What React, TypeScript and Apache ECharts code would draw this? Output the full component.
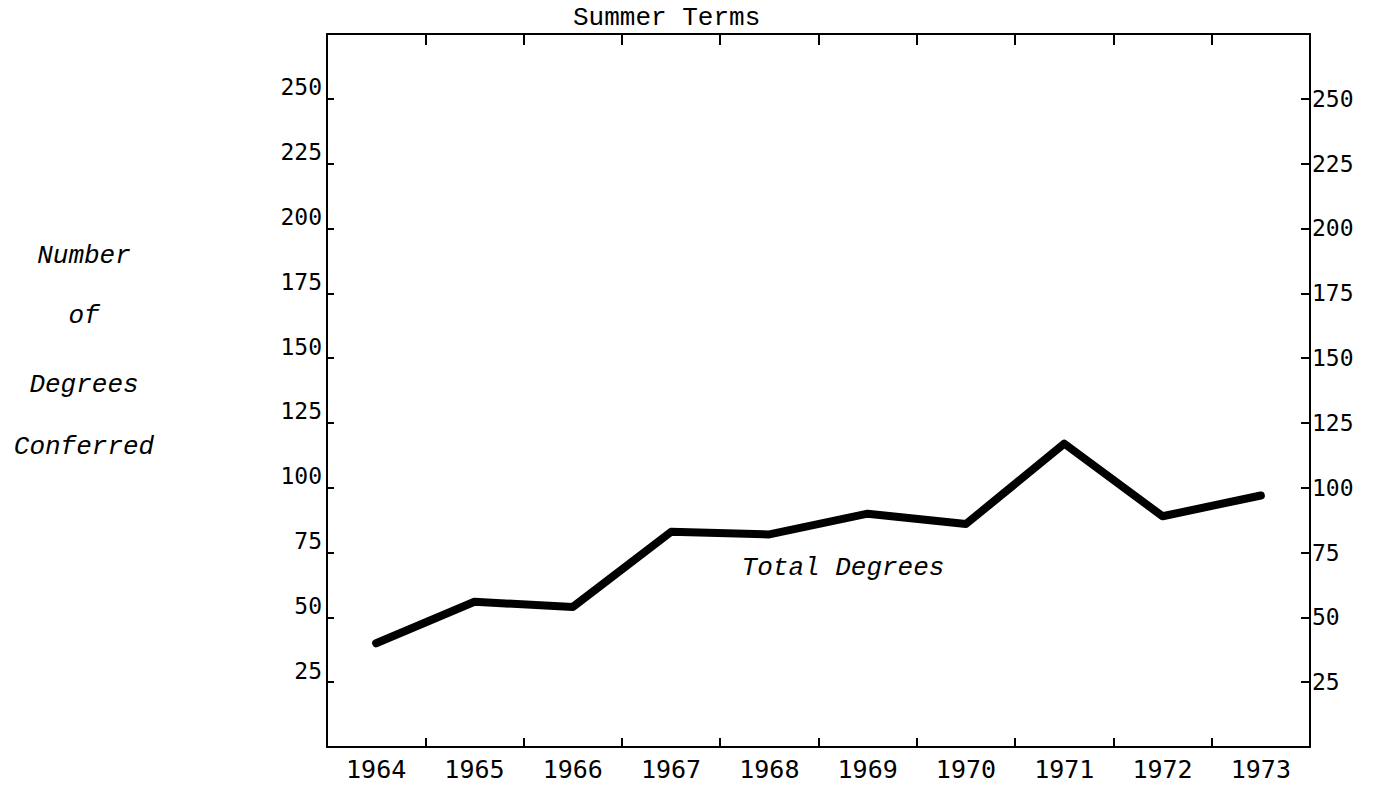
import React, { useEffect, useRef } from "react";
import * as echarts from "echarts";

const years = ["1964", "1965", "1966", "1967", "1968", "1969", "1970", "1971", "1972", "1973"];
const totalDegrees = [40, 56, 54, 83, 82, 90, 86, 117, 89, 97];
const yMin = 0;
const yMax = 275;
const yStep = 25;
const leftTitleLines = ["Number", "of", "Degrees", "Conferred"];

export default function App() {
  const ref = useRef<HTMLDivElement>(null);
  useEffect(() => {
    if (!ref.current) return;
    const chart = echarts.init(ref.current, null, { renderer: "svg" });
    const numFont = "DejaVu Sans Mono";
    const typeFont = "Liberation Mono";
    const hideEnds = (v: number) => (v === yMin || v === yMax ? "" : String(v));
    chart.setOption({
      animation: false,
      backgroundColor: "#ffffff",
      grid: { left: 327, right: 67, top: 34, bottom: 38, containLabel: false },
      xAxis: [
        {
          type: "category",
          data: years,
          position: "bottom",
          boundaryGap: true,
          axisLine: { show: true, onZero: false, lineStyle: { color: "#000", width: 2 } },
          axisTick: { show: true, inside: true, length: 9, interval: 0, lineStyle: { color: "#000", width: 2 } },
          axisLabel: { color: "#000", fontFamily: numFont, fontSize: 25, margin: 10, interval: 0 },
          splitLine: { show: false },
        },
        {
          type: "category",
          data: years,
          position: "top",
          boundaryGap: true,
          axisLine: { show: true, onZero: false, lineStyle: { color: "#000", width: 2 } },
          axisTick: { show: true, inside: true, length: 11, interval: 0, lineStyle: { color: "#000", width: 2 } },
          axisLabel: { show: false },
          splitLine: { show: false },
        },
      ],
      yAxis: [
        {
          type: "value",
          min: yMin,
          max: yMax,
          interval: yStep,
          position: "left",
          axisLine: { show: true, onZero: false, lineStyle: { color: "#000", width: 2 } },
          axisTick: { show: true, inside: true, length: 7, lineStyle: { color: "#000", width: 2 } },
          axisLabel: {
            color: "#000",
            fontFamily: numFont,
            fontSize: 23,
            margin: 5,
            verticalAlign: "bottom",
            formatter: hideEnds,
          },
          splitLine: { show: false },
        },
        {
          type: "value",
          min: yMin,
          max: yMax,
          interval: yStep,
          position: "right",
          axisLine: { show: true, onZero: false, lineStyle: { color: "#000", width: 2 } },
          axisTick: { show: true, inside: true, length: 9, lineStyle: { color: "#000", width: 2 } },
          axisLabel: {
            color: "#000",
            fontFamily: numFont,
            fontSize: 23,
            margin: 2,
            verticalAlign: "middle",
            formatter: hideEnds,
          },
          splitLine: { show: false },
        },
      ],
      series: [
        {
          name: "Total Degrees",
          type: "line",
          data: totalDegrees,
          xAxisIndex: 0,
          yAxisIndex: 0,
          showSymbol: false,
          symbol: "none",
          lineStyle: { color: "#000", width: 8, join: "round", cap: "round" },
        },
      ],
      graphic: [
        {
          type: "text",
          left: 573,
          top: 5,
          style: { text: "Summer Terms", fill: "#000", font: `26px "${typeFont}"` },
        },
        {
          type: "text",
          x: 843,
          y: 568,
          style: {
            text: "Total Degrees",
            fill: "#000",
            font: `italic 26px "${typeFont}"`,
            textAlign: "center",
            textVerticalAlign: "middle",
          },
        },
        ...leftTitleLines.map((t, i) => ({
          type: "text",
          x: 84,
          y: [256, 316, 385, 447][i],
          style: {
            text: t,
            fill: "#000",
            font: `italic 26px "${typeFont}"`,
            textAlign: "center",
            textVerticalAlign: "middle",
          },
        })),
      ],
    });
    return () => chart.dispose();
  }, []);
  return (
    <div
      ref={ref}
      style={{ position: "absolute", left: 0, top: 0, width: 1377, height: 785, background: "#fff" }}
    />
  );
}
